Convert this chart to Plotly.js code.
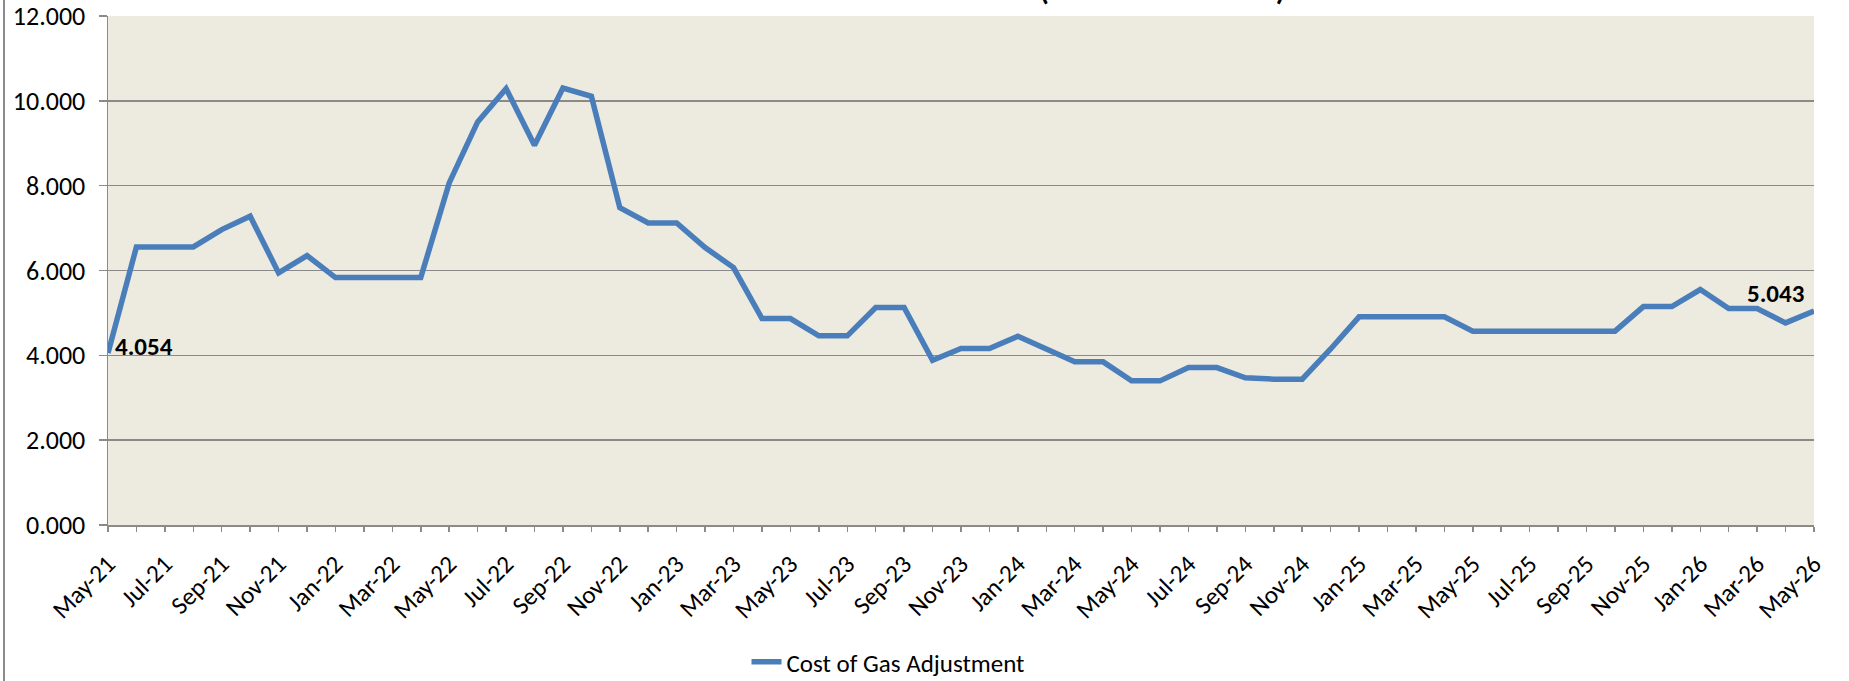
<!DOCTYPE html>
<html>
<head>
<meta charset="utf-8">
<script src="https://cdn.plot.ly/plotly-3.0.1.min.js"></script>
<style>
  html, body { margin: 0; padding: 0; background: #ffffff; }
  #wrap { position: relative; width: 1849px; height: 681px; overflow: hidden; }
  #chart { width: 1849px; height: 681px; }
  #edge { position: absolute; left: 3px; top: 0; width: 2px; height: 681px; background: #8c8c8c; }
</style>
</head>
<body>
<div id="wrap">
  <div id="chart"></div>
  <div id="edge"></div>
</div>
<script>
const months = [
  "May-21","Jun-21","Jul-21","Aug-21","Sep-21","Oct-21","Nov-21","Dec-21",
  "Jan-22","Feb-22","Mar-22","Apr-22","May-22","Jun-22","Jul-22","Aug-22","Sep-22","Oct-22","Nov-22","Dec-22",
  "Jan-23","Feb-23","Mar-23","Apr-23","May-23","Jun-23","Jul-23","Aug-23","Sep-23","Oct-23","Nov-23","Dec-23",
  "Jan-24","Feb-24","Mar-24","Apr-24","May-24","Jun-24","Jul-24","Aug-24","Sep-24","Oct-24","Nov-24","Dec-24",
  "Jan-25","Feb-25","Mar-25","Apr-25","May-25","Jun-25","Jul-25","Aug-25","Sep-25","Oct-25","Nov-25","Dec-25",
  "Jan-26","Feb-26","Mar-26","Apr-26","May-26"
];
const cgaValues = [
  4.054, 6.556, 6.556, 6.556, 6.965, 7.279, 5.943, 6.352,
  5.833, 5.833, 5.833, 5.833, 8.064, 9.502, 10.288, 8.952, 10.300, 10.107, 7.480, 7.122,
  7.122, 6.540, 6.069, 4.867, 4.867, 4.459, 4.459, 5.127, 5.127, 3.885, 4.160, 4.160,
  4.451, 4.137, 3.846, 3.846, 3.398, 3.398, 3.712, 3.712, 3.469, 3.438, 3.438, 4.150,
  4.907, 4.907, 4.907, 4.907, 4.569, 4.569, 4.569, 4.569, 4.569, 4.569, 5.150, 5.150,
  5.551, 5.103, 5.103, 4.765, 5.043
];
const seriesName = "Cost of Gas Adjustment";
const chartTitle = "COST OF GAS ADJUSTMENT (DOLLARS PER DTH)";
const yTickVals = [0, 2, 4, 6, 8, 10, 12];

const FONT = 'Carlito, Calibri, "Liberation Sans", Arial, sans-serif';
const GRID = '#8a8a8a';
const LINE = '#4a7ebb';

const monthIdx = months.map((m, i) => i);
const majorIdx = monthIdx.filter(i => i % 2 === 0);
const tickText = months.map((m, i) => (i % 2 === 0 ? m : ''));

const last = months.length - 1;

const trace = {
  type: 'scatter',
  mode: 'lines',
  x: months,
  y: cgaValues,
  name: seriesName,
  line: { color: LINE, width: 5.5 },
  hoverinfo: 'x+y'
};

const layout = {
  width: 1849,
  height: 681,
  margin: { l: 108, r: 35, t: 16, b: 156, pad: 0, autoexpand: false },
  paper_bgcolor: '#ffffff',
  plot_bgcolor: '#edeae0',
  font: { family: FONT, size: 24, color: '#000000' },
  title: {
    text: chartTitle,
    font: { family: FONT, size: 30, color: '#000000', weight: 'bold' },
    xref: 'container', yref: 'container',
    x: 1285 / 1849, xanchor: 'right',
    y: 1.0, yanchor: 'bottom'
  },
  showlegend: true,
  legend: {
    orientation: 'h',
    xref: 'container', yref: 'container',
    x: 888 / 1849, xanchor: 'center',
    y: 19 / 681, yanchor: 'middle',
    font: { family: FONT, size: 25, color: '#000000' },
    bgcolor: 'rgba(0,0,0,0)'
  },
  xaxis: {
    type: 'category',
    range: [0, last],
    tickmode: 'array',
    tickvals: months,
    ticktext: tickText,
    ticks: 'outside',
    ticklen: 5,
    tickwidth: 1.5,
    tickcolor: GRID,
    tickangle: -45,
    ticklabelstandoff: 8,
    tickfont: { family: FONT, size: 25, color: '#000000' },
    showline: true,
    linecolor: GRID,
    linewidth: 1.5,
    showgrid: false,
    zeroline: false,
    fixedrange: true
  },
  xaxis2: {
    overlaying: 'x',
    anchor: 'y',
    side: 'bottom',
    type: 'linear',
    range: [0, last],
    tickmode: 'array',
    tickvals: majorIdx,
    ticks: 'inside',
    ticklen: 8,
    tickwidth: 1.5,
    tickcolor: GRID,
    showticklabels: false,
    showline: false,
    showgrid: false,
    zeroline: false,
    fixedrange: true
  },
  yaxis: {
    range: [0, 12],
    tickmode: 'array',
    tickvals: yTickVals,
    tickformat: '.3f',
    ticks: 'outside',
    ticklen: 8,
    tickwidth: 1.5,
    tickcolor: GRID,
    ticklabelstandoff: 8,
    tickfont: { family: FONT, size: 26, color: '#000000' },
    showline: true,
    linecolor: GRID,
    linewidth: 1.5,
    showgrid: true,
    gridcolor: GRID,
    gridwidth: 1.5,
    zeroline: false,
    fixedrange: true
  },
  annotations: [
    {
      x: months[0], y: cgaValues[0], xref: 'x', yref: 'y',
      text: cgaValues[0].toFixed(3), showarrow: false,
      xanchor: 'left', yanchor: 'bottom', xshift: 5, yshift: -11,
      font: { family: FONT, size: 25, color: '#000000', weight: 'bold' }
    },
    {
      x: months[last], y: cgaValues[last], xref: 'x', yref: 'y',
      text: cgaValues[last].toFixed(3), showarrow: false,
      xanchor: 'right', yanchor: 'bottom', xshift: -8, yshift: 0,
      font: { family: FONT, size: 25, color: '#000000', weight: 'bold' }
    }
  ]
};

Plotly.newPlot('chart', [trace], layout, { displayModeBar: false, staticPlot: true });
</script>
</body>
</html>
